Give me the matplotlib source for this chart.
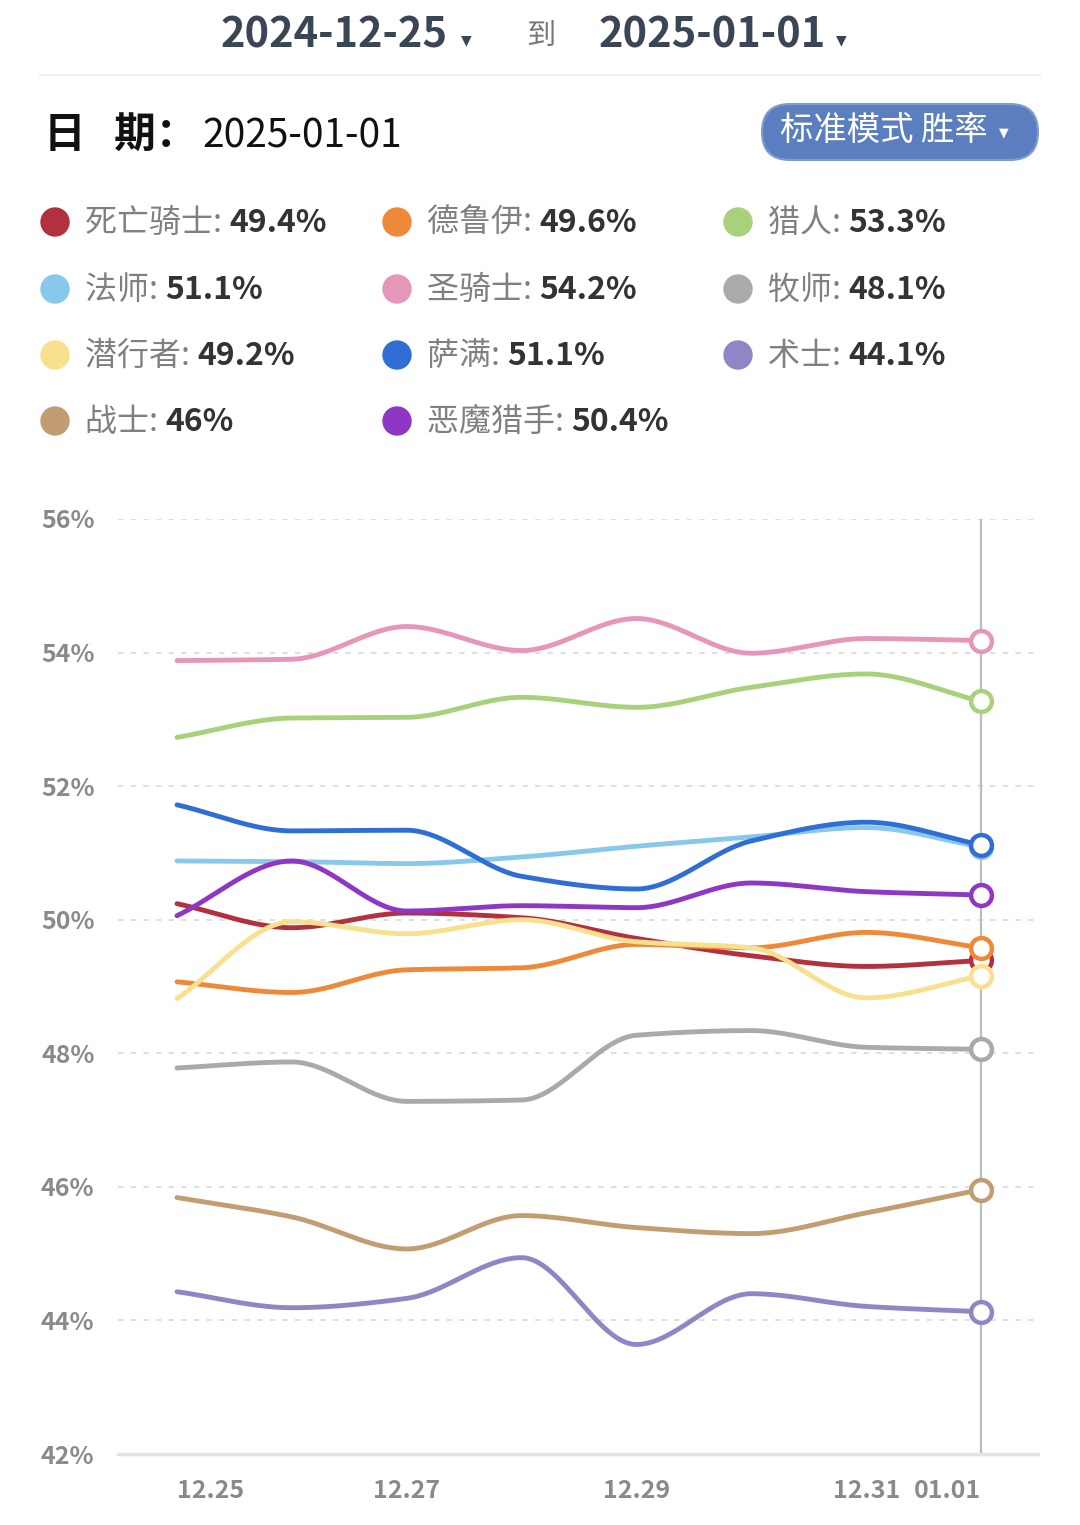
import matplotlib
matplotlib.use('Agg')
import matplotlib.pyplot as plt
from matplotlib.patches import Circle, FancyBboxPatch
import numpy as np

plt.rcParams['font.family'] = ['Noto Sans CJK SC', 'DejaVu Sans']

# Data (win rate %, 12.25 .. 01.01)
dates = ['12.25', '12.26', '12.27', '12.28', '12.29', '12.30', '12.31', '01.01']
shown_ticks = ['12.25', '12.27', '12.29', '12.31', '01.01']
classes = ['死亡骑士', '德鲁伊', '猎人', '法师', '圣骑士', '牧师',
           '潜行者', '萨满', '术士', '战士', '恶魔猎手']
final_labels = ['49.4%', '49.6%', '53.3%', '51.1%', '54.2%', '48.1%',
                '49.2%', '51.1%', '44.1%', '46%', '50.4%']
colors = ['#b3303e', '#ee8a37', '#a9d17b', '#88c8ea', '#e596b9', '#aaaaaa',
          '#f8e08f', '#2f6fd5', '#9285c6', '#c39d72', '#9036c4']

death_knight = [50.24, 49.88, 50.10, 50.03, 49.72, 49.46, 49.30, 49.39]
druid = [49.07, 48.91, 49.25, 49.28, 49.63, 49.58, 49.81, 49.58]
hunter = [52.73, 53.02, 53.03, 53.33, 53.18, 53.48, 53.68, 53.27]
mage = [50.88, 50.87, 50.84, 50.94, 51.10, 51.24, 51.38, 51.09]
paladin = [53.88, 53.90, 54.39, 54.03, 54.51, 53.99, 54.21, 54.18]
priest = [47.78, 47.87, 47.28, 47.30, 48.27, 48.34, 48.09, 48.06]
rogue = [48.82, 49.97, 49.79, 50.00, 49.67, 49.58, 48.83, 49.16]
shaman = [51.72, 51.33, 51.34, 50.65, 50.46, 51.18, 51.46, 51.12]
warlock = [44.43, 44.19, 44.33, 44.94, 43.64, 44.40, 44.21, 44.13]
warrior = [45.84, 45.55, 45.07, 45.57, 45.39, 45.30, 45.61, 45.96]
demon_hunter = [50.06, 50.88, 50.13, 50.21, 50.18, 50.55, 50.42, 50.37]

series = [death_knight, druid, hunter, mage, paladin, priest,
          rogue, shaman, warlock, warrior, demon_hunter]


def pchip(x, y, xs):
    x = np.asarray(x, float)
    y = np.asarray(y, float)
    h = np.diff(x)
    d = np.diff(y) / h
    n = len(x)
    m = np.zeros(n)
    for k in range(1, n - 1):
        if d[k - 1] * d[k] > 0:
            w1 = 2 * h[k] + h[k - 1]
            w2 = h[k] + 2 * h[k - 1]
            m[k] = (w1 + w2) / (w1 / d[k - 1] + w2 / d[k])
    m[0] = d[0]
    m[-1] = d[-1]
    idx = np.clip(np.searchsorted(x, xs) - 1, 0, n - 2)
    t = (xs - x[idx]) / h[idx]
    h00 = 2 * t**3 - 3 * t**2 + 1
    h10 = t**3 - 2 * t**2 + t
    h01 = -2 * t**3 + 3 * t**2
    h11 = t**3 - t**2
    return (h00 * y[idx] + h10 * h[idx] * m[idx]
            + h01 * y[idx + 1] + h11 * h[idx] * m[idx + 1])


W, H = 1080, 1525
fig = plt.figure(figsize=(W / 100, H / 100), dpi=100)
fig.patch.set_facecolor('white')

# overlay in pixel coords for the header / legend
bg = fig.add_axes([0, 0, 1, 1])
bg.set_xlim(0, W)
bg.set_ylim(H, 0)
bg.axis('off')

hdr = '#3a4556'
bg.text(221, 36, '2024-12-25', fontsize=30, fontweight='bold', color=hdr,
        ha='left', va='center')
bg.text(466, 40, '▼', fontsize=10, color=hdr, ha='center', va='center',
        family='DejaVu Sans')
bg.text(541, 36, '到', fontsize=21, color='#777777', ha='center', va='center')
bg.text(599, 36, '2025-01-01', fontsize=30, fontweight='bold', color=hdr,
        ha='left', va='center')
bg.text(841, 40, '▼', fontsize=10, color=hdr, ha='center', va='center',
        family='DejaVu Sans')
bg.plot([40, 1040], [75, 75], color='#f0f0f0', lw=1.5)

bg.text(44, 135, '日   期：', fontsize=30, fontweight='bold', color='#111111',
        ha='left', va='center')
bg.text(202, 137, '2025-01-01', fontsize=28, color='#111111',
        ha='left', va='center')

btn = FancyBboxPatch((762, 104), 276, 56,
                     boxstyle='round,pad=0,rounding_size=28',
                     fc='#5a7ec0', ec='#7f9ccf', lw=1.5)
bg.add_patch(btn)
bg.text(780, 130, '标准模式 胜率', fontsize=24, color='white',
        ha='left', va='center')
bg.text(1004, 133, '▼', fontsize=9, color='white', ha='center', va='center',
        family='DejaVu Sans')

# legend grid
col_x = [55, 397, 738]
row_y = [222, 289, 355, 421]
for i, (name, val, c) in enumerate(zip(classes, final_labels, colors)):
    cx = col_x[i % 3]
    cy = row_y[i // 3]
    bg.add_patch(Circle((cx, cy), 14, color=c))
    t = bg.text(cx + 30, cy + 17, name + ': ', fontsize=23, color='#808080',
                ha='left', va='bottom')
    bg.annotate(val, xy=(1, 0), xycoords=t, fontsize=23, fontweight='bold',
                color='#333333', ha='left', va='bottom')

# main chart
x = np.arange(len(dates))
ax_l, ax_r, ax_t, ax_b = 118, 1038, 519, 1454
ax = fig.add_axes([ax_l / W, 1 - ax_b / H, (ax_r - ax_l) / W, (ax_b - ax_t) / H])
ax.set_facecolor('none')
px_per_unit = (981 - 177) / 7
ax.set_xlim(-(177 - ax_l) / px_per_unit, 7 + (ax_r - 981) / px_per_unit)
ax.set_ylim(42, 56)

for yv in range(44, 57, 2):
    ax.axhline(yv, color='#dcdcdc', lw=1.3, ls=(0, (3, 4)), zorder=0)
ax.axvline(x[-1], color='#bdbdbd', lw=1.6, zorder=1)

xs = np.linspace(0, len(dates) - 1, 600)
for vals, c in zip(series, colors):
    ax.plot(xs, pchip(x, vals, xs), color=c, lw=3.5, solid_capstyle='round',
            zorder=2)
for vals, c in zip(series, colors):
    ax.plot(x[-1], vals[-1], 'o', ms=15, mfc='white', mec=c, mew=3.2, zorder=3)

for s in ['top', 'right', 'left']:
    ax.spines[s].set_visible(False)
ax.spines['bottom'].set_color('#e3e3e3')
ax.spines['bottom'].set_linewidth(2.5)

ax.set_yticks(range(42, 57, 2))
ax.set_yticklabels([f'{v}%' for v in range(42, 57, 2)])
tick_pos = [dates.index(d) for d in shown_ticks]
ax.set_xticks(tick_pos)
ax.set_xticklabels(shown_ticks)
ax.tick_params(axis='both', length=0, labelsize=18, labelcolor='#8a8a8a')
ax.tick_params(axis='y', pad=17)
ax.tick_params(axis='x', pad=18)
for lab in ax.get_yticklabels() + ax.get_xticklabels():
    lab.set_fontweight('bold')
xl = ax.get_xticklabels()
xl[0].set_ha('left')
xl[-1].set_ha('right')

fig.savefig('out.png', dpi=100, facecolor='white')
